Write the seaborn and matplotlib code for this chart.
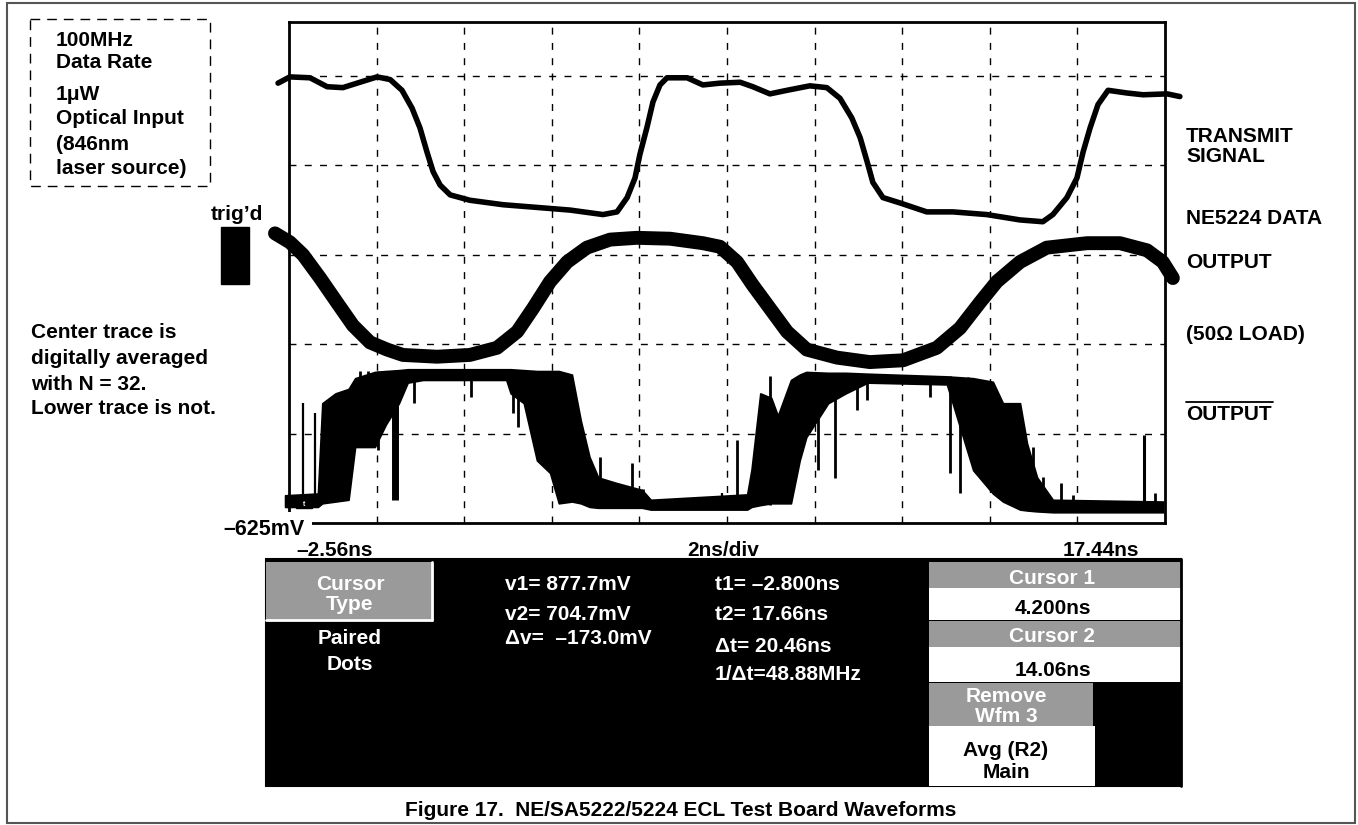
import numpy as np
import matplotlib
matplotlib.use("Agg")
import matplotlib.pyplot as plt
import seaborn as sns
from matplotlib.patches import Rectangle

# ---------------- data (time in ns, amplitude in screen divisions above bottom) ----------------
transmit_t = [-2.81, -2.54, -2.08, -1.69, -1.33, -0.94, -0.55, -0.25, 0.02, 0.25, 0.43, 0.59, 0.73,
              0.89, 1.12, 1.57, 2.33, 3.10, 3.86, 4.61, 4.93, 5.16, 5.34, 5.45, 5.61, 5.75, 5.91,
              6.07, 6.53, 6.89, 7.28, 7.74, 8.03, 8.42, 8.81, 9.33, 9.72, 10.02, 10.29, 10.48,
              10.64, 10.77, 11.00, 11.39, 12.00, 12.60, 13.37, 14.13, 14.65, 14.88, 15.20, 15.43,
              15.57, 15.73, 15.91, 16.14, 16.57, 16.94, 17.49, 17.78]
transmit_v = [4.92, 4.99, 4.98, 4.88, 4.87, 4.93, 4.99, 4.96, 4.84, 4.64, 4.42, 4.15, 3.93,
              3.78, 3.67, 3.61, 3.56, 3.53, 3.50, 3.45, 3.48, 3.64, 3.86, 4.12, 4.42, 4.71, 4.90,
              4.98, 4.98, 4.90, 4.92, 4.93, 4.88, 4.80, 4.84, 4.89, 4.87, 4.75, 4.53, 4.31,
              4.04, 3.81, 3.64, 3.58, 3.48, 3.48, 3.45, 3.39, 3.37, 3.45, 3.64, 3.86,
              4.15, 4.42, 4.68, 4.84, 4.81, 4.79, 4.80, 4.77]

center_t = [-2.88, -2.54, -2.24, -1.85, -1.47, -1.10, -0.71, -0.32, 0.04, 0.82, 1.57, 2.19, 2.65,
            3.01, 3.40, 3.79, 4.24, 4.77, 5.38, 6.14, 6.89, 7.28, 7.67, 8.03, 8.42, 8.81, 9.26,
            9.95, 10.70, 11.46, 12.23, 12.76, 13.22, 13.60, 14.13, 14.74, 15.66, 16.41, 17.03,
            17.39, 17.62]
center_v = [3.24, 3.14, 3.00, 2.74, 2.47, 2.21, 2.02, 1.94, 1.88, 1.86, 1.88, 1.96, 2.14,
            2.40, 2.70, 2.92, 3.08, 3.17, 3.19, 3.18, 3.13, 3.09, 2.92, 2.66, 2.40, 2.14, 1.94,
            1.85, 1.80, 1.82, 1.96, 2.18, 2.47, 2.70, 2.92, 3.08, 3.13, 3.13, 3.05,
            2.92, 2.74]

lower_t = [-2.65, -1.90, -1.80, -1.50, -1.20, -1.05, -0.60, -0.35, -0.05, 0.15, 0.50, 2.40, 2.50,
           2.80, 3.10, 3.40, 3.60, 3.90, 4.10, 4.30, 4.50, 4.90, 5.50, 5.70, 7.90, 8.00, 8.20,
           8.45, 8.60, 8.90, 9.10, 9.25, 9.75, 10.15, 10.65, 12.46, 13.06, 13.51, 13.74, 14.13,
           14.29, 14.52, 14.88, 17.40]
lower_hi = [0.31, 0.33, 1.34, 1.45, 1.50, 1.62, 1.69, 1.70, 1.71, 1.72, 1.72, 1.72, 1.72,
            1.71, 1.70, 1.70, 1.70, 1.66, 1.15, 0.74, 0.51, 0.45, 0.37, 0.26, 0.32, 0.60, 1.45,
            1.40, 1.20, 1.60, 1.66, 1.69, 1.68, 1.68, 1.67, 1.64, 1.62, 1.58, 1.34, 1.34,
            0.89, 0.51, 0.26, 0.24]
lower_lo = [0.18, 0.18, 0.22, 0.24, 0.26, 0.85, 0.85, 1.10, 1.34, 1.57, 1.60, 1.60, 1.45,
            1.34, 0.70, 0.56, 0.22, 0.24, 0.22, 0.18, 0.17, 0.17, 0.17, 0.15, 0.15, 0.18, 0.20,
            0.22, 0.22, 0.22, 0.70, 0.96, 1.34, 1.45, 1.57, 1.55, 0.59, 0.33, 0.24, 0.15,
            0.14, 0.13, 0.12, 0.12]

spike_t = [-2.60, -2.24, -1.97, -0.94, -0.76, -0.53, -0.14, 0.29, 1.60, 2.55, 2.67, 4.54, 5.27,
           5.52, 7.33, 7.67, 8.42, 9.52, 9.91, 10.41, 10.64, 12.07, 12.53, 12.76, 12.94, 14.43,
           14.65, 15.07, 15.34, 16.96, 17.21]
spike_lo = [0.20, 0.20, 0.20, 0.89, 0.89, 0.82, 0.26, 1.34, 1.41, 1.23, 1.07, 0.20, 0.20,
            0.20, 0.20, 0.20, 0.20, 0.59, 0.50, 1.26, 1.38, 1.41, 0.56, 0.33, 0.82, 0.15,
            0.15, 0.15, 0.15, 0.15, 0.15]
spike_hi = [1.35, 1.34, 1.23, 1.70, 1.70, 1.70, 1.70, 1.70, 1.70, 1.70, 1.70, 0.74, 0.67,
            0.38, 0.33, 0.93, 1.64, 1.66, 1.66, 1.66, 1.66, 1.64, 1.64, 1.63, 1.63, 0.85,
            0.52, 0.45, 0.31, 0.98, 0.33]
spike_w = [1.6, 1.6, 1.6, 2, 2, 2, 5, 2, 2, 2, 2, 2, 2,
           2, 1.6, 2, 2, 2, 2, 2, 2, 2, 2, 2, 2, 2,
           2, 2, 2, 2.2, 2]

x_min, x_max = -2.56, 17.44
div_px = 89.4

# texts
info_lines = ["100MHz", "Data Rate", "1\u03bcW", "Optical Input", "(846nm", "laser source)"]
note_lines = ["Center trace is", "digitally averaged", "with N = 32.", "Lower trace is not."]
right_labels = ["TRANSMIT", "SIGNAL", "NE5224 DATA", "OUTPUT", "(50\u03a9 LOAD)", "OUTPUT"]
axis_labels = ["\u20132.56ns", "2ns/div", "17.44ns"]
volt_label = "\u2013625mV"
v_readouts = ["v1= 877.7mV", "v2= 704.7mV", "\u0394v=  \u2013173.0mV"]
t_readouts = ["t1= \u20132.800ns", "t2= 17.66ns", "\u0394t= 20.46ns", "1/\u0394t=48.88MHz"]
caption = "Figure 17.  NE/SA5222/5224 ECL Test Board Waveforms"

# ---------------- figure ----------------
sns.set_theme(style="white")
plt.rcParams["font.family"] = ["Liberation Sans", "DejaVu Sans"]
plt.rcParams["font.weight"] = "bold"

W, H = 1358, 825
fig = plt.figure(figsize=(W / 100, H / 100), dpi=100)
fig.patch.set_facecolor("white")

PL, PT, PR, PB = 289, 22, 1165, 523
ax = fig.add_axes([PL / W, 1 - PB / H, (PR - PL) / W, (PB - PT) / H], zorder=1)
ax.set_facecolor("white")
ax.set_xlim(x_min, x_max)
ax.set_ylim(0, (PB - PT) / div_px)
ax.set_xticks(np.arange(x_min + 2, x_max - 1, 2.0))
ax.set_yticks([1, 2, 3, 4, 5])
ax.grid(True, color="black", linestyle=(0, (5, 6)), linewidth=1.0)
ax.tick_params(length=0, labelbottom=False, labelleft=False)
for s in ax.spines.values():
    s.set_visible(True)
    s.set_color("black")
    s.set_linewidth(2.0)

sns.lineplot(x=transmit_t, y=transmit_v, ax=ax, color="black", linewidth=4.0, sort=False,
             estimator=None, legend=False, clip_on=False, solid_joinstyle="round")
sns.lineplot(x=center_t, y=center_v, ax=ax, color="black", linewidth=10, sort=False,
             estimator=None, legend=False, clip_on=False, solid_capstyle="round",
             solid_joinstyle="round")
ax.fill_between(lower_t, lower_lo, lower_hi, color="black", linewidth=1.2, edgecolor="black",
                clip_on=False)
ax.vlines(spike_t, spike_lo, spike_hi, colors="black", linewidths=spike_w)
ax.set_xlabel("")
ax.set_ylabel("")

# ---------------- annotation layer (pixel coordinates) ----------------
axb = fig.add_axes([0, 0, 1, 1], zorder=2)
axb.set_xlim(0, W)
axb.set_ylim(H, 0)
axb.axis("off")
axb.patch.set_alpha(0)

FS = 15
CAP = 7.5


def T(x, yc, s, ha="left", color="black", fs=FS, **kw):
    return axb.text(x, yc + CAP * fs / FS, s, ha=ha, va="baseline", color=color, fontsize=fs,
                    fontweight="bold", **kw)


# outer border
axb.add_patch(Rectangle((7, 3), 1348, 820, fill=False, ec="#555555", lw=1.5))
# dashed info box
axb.add_patch(Rectangle((30, 19), 180, 167, fill=False, ec="black", lw=1.0, ls=(0, (7, 5))))
for yc, s in zip([38, 61, 92, 117, 143, 167], info_lines):
    T(56, yc, s)

# trig'd
T(237, 212, "trig\u2019d", ha="center")
axb.add_patch(Rectangle((221, 227), 28, 57, fc="black", ec="black"))

for yc, s in zip([330, 356, 382, 407], note_lines):
    T(31, yc, s)

for yc, s in zip([135, 155, 217, 260, 332, 412], right_labels):
    T(1186, yc, s)
axb.plot([1186, 1273], [402, 402], color="black", lw=1.3)

# voltage label with white background covering plot corner
T(305, 527, volt_label, ha="right", fs=15.5,
  bbox=dict(fc="white", ec="none", pad=5))

for xc, s in zip([335, 723, 1101], axis_labels):
    T(xc, 548, s, ha="center")

# scope markers
axb.add_patch(Rectangle((296, 501), 16, 7, fc="black", ec="black"))
axb.text(304, 505, "t", ha="center", va="center", color="white", fontsize=5)
axb.text(289, 508, "+", ha="center", va="center", color="black", fontsize=8)

# ---------------- lower panel ----------------
GRAY = "#9a9a9a"
axb.add_patch(Rectangle((266, 559), 915, 227, fc="black", ec="black", lw=1.5))
axb.add_patch(Rectangle((266, 562), 166, 58, fc=GRAY, ec="none"))
axb.plot([432, 432], [562, 620], color="white", lw=2)
axb.plot([266, 432], [620, 620], color="white", lw=2)
T(350, 582, "Cursor", ha="center", color="white")
T(350, 602, "Type", ha="center", color="white")
T(350, 637, "Paired", ha="center", color="white")
T(350, 662, "Dots", ha="center", color="white")

for yc, s in zip([583, 612, 637], v_readouts):
    T(505, yc, s, color="white")
for yc, s in zip([582, 613, 645, 673], t_readouts):
    T(715, yc, s, color="white")

axb.add_patch(Rectangle((929, 562), 252, 26, fc=GRAY, ec="none"))
axb.add_patch(Rectangle((929, 588), 252, 32, fc="white", ec="none"))
axb.add_patch(Rectangle((929, 621), 252, 26, fc=GRAY, ec="none"))
axb.add_patch(Rectangle((929, 647), 252, 35, fc="white", ec="none"))
axb.add_patch(Rectangle((929, 683), 164, 43, fc=GRAY, ec="none"))
axb.add_patch(Rectangle((929, 726), 166, 60, fc="white", ec="none"))
axb.plot([1181, 1181], [559, 786], color="black", lw=2)

T(1052, 577, "Cursor 1", ha="center", color="white")
T(1053, 607, "4.200ns", ha="center")
T(1052, 635, "Cursor 2", ha="center", color="white")
T(1053, 668, "14.06ns", ha="center")
T(1006, 695, "Remove", ha="center", color="white")
T(1006, 715, "Wfm 3", ha="center", color="white")
T(1006, 748, "Avg (R2)", ha="center")
T(1006, 770, "Main", ha="center")

T(681, 808, caption, ha="center")

fig.savefig("out.png", dpi=100, facecolor="white")
